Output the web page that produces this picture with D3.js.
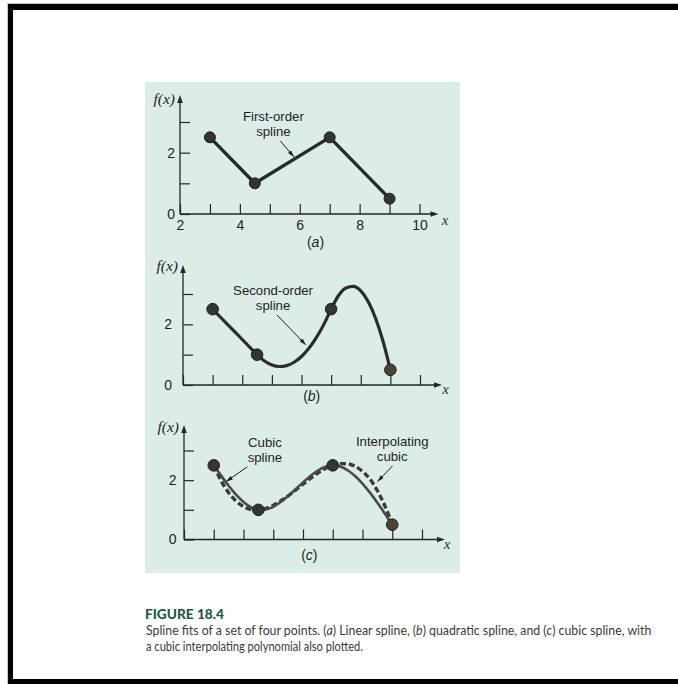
<!DOCTYPE html>
<html><head><meta charset="utf-8">
<script src="https://cdn.jsdelivr.net/npm/d3@7"></script>
<style>html,body{margin:0;padding:0;background:#fff;} svg{display:block;}</style>
</head><body>
<svg id="chart" width="678" height="684"></svg>
<script>
// ---------------- data ----------------
const pointX = [3, 4.5, 7, 9];
const pointY = [2.5, 1.0, 2.5, 0.5];

const xTickValues = [2, 3, 4, 5, 6, 7, 8, 9, 10];
const xTickLabels = ["2", "", "4", "", "6", "", "8", "", "10"];
const yTickValues = [0, 1, 2, 3];
const yTickLabels = ["0", "", "2", ""];

// curve samples
const sampleX = [3, 3.25, 3.5, 3.75, 4, 4.25, 4.5, 4.75, 5, 5.25, 5.5, 5.75, 6, 6.25, 6.5, 6.75, 7, 7.25, 7.5, 7.75, 8, 8.25, 8.5, 8.75, 9];
const quadSplineY = [2.5, 2.25, 2.0, 1.75, 1.5, 1.25, 1.0, 0.79, 0.66, 0.61, 0.64, 0.75, 0.94, 1.21, 1.56, 1.99, 2.5, 2.95, 3.2, 3.25, 3.1, 2.75, 2.2, 1.45, 0.5];
const cubicSplineY = [2.5, 2.148, 1.813, 1.514, 1.267, 1.090, 1.0, 1.009, 1.103, 1.262, 1.465, 1.693, 1.926, 2.143, 2.324, 2.450, 2.5, 2.460, 2.335, 2.139, 1.883, 1.579, 1.240, 0.876, 0.5];
const interpCubicY = [2.5, 1.977, 1.580, 1.295, 1.111, 1.017, 1.0, 1.049, 1.152, 1.297, 1.472, 1.666, 1.867, 2.062, 2.241, 2.391, 2.5, 2.557, 2.55, 2.467, 2.296, 2.036, 1.644, 1.140, 0.5];

const panelLetters = ["a", "b", "c"];
const annotationTexts = [
  [["First-order", "spline"]],
  [["Second-order", "spline"]],
  [["Cubic", "spline"], ["Interpolating", "cubic"]]
];
// annotation anchor: [textX, textY, arrowFromX, arrowFromY, arrowToX, arrowToY] in data units
const annotationAnchors = [
  [[5.12, 3.04, 5.35, 2.38, 5.81, 1.86]],
  [[5.04, 2.97, 5.17, 2.31, 6.15, 1.32]],
  [[4.72, 3.11, 4.13, 2.45, 3.41, 1.95], [9.0, 3.15, 9.01, 2.48, 8.50, 1.95]]
];
const captionTitle = "FIGURE 18.4";

// ---------------- layout ----------------
const layout = [
  {x0: 180, x1: 419.5, y0: 214, y3: 122, yTop: 95, xEnd: 438.5, yPad: 5, xPad: 6, fxBase: 104, xlabBase: 225, xlabX: 445, letterX: 315.5, letterBase: 246.5, r: 5.5, labelsX: true},
  {x0: 183, x1: 420, y0: 385, y3: 294, yTop: 265, xEnd: 442, yPad: 11, xPad: 7, fxBase: 270.5, xlabBase: 393.5, xlabX: 445.5, letterX: 311.7, letterBase: 401, r: 5.8, labelsX: false},
  {x0: 184, x1: 422, y0: 539.5, y3: 450.5, yTop: 425, xEnd: 445, yPad: 7.5, xPad: 7, fxBase: 431.5, xlabBase: 548.5, xlabX: 447, letterX: 309.3, letterBase: 560, r: 5.8, labelsX: false}
];

const svg = d3.select("#chart");
const sans = "'Liberation Sans', Arial, Helvetica, sans-serif";
const serif = "'Liberation Serif', 'Times New Roman', serif";

// frame
svg.append("rect").attr("x", 0).attr("y", 0).attr("width", 678).attr("height", 684).attr("fill", "#fff");
svg.append("rect").attr("x", 7).attr("y", 3).attr("width", 671).attr("height", 1).attr("fill", "#c8c8c8");
svg.append("rect").attr("x", 7).attr("y", 3).attr("width", 1).attr("height", 681).attr("fill", "#c8c8c8");
svg.append("rect").attr("x", 8).attr("y", 4).attr("width", 670).attr("height", 6).attr("fill", "#000");
svg.append("rect").attr("x", 8).attr("y", 4).attr("width", 5).attr("height", 680).attr("fill", "#000");
svg.append("rect").attr("x", 8).attr("y", 679).attr("width", 670).attr("height", 5).attr("fill", "#000");

// page panel
svg.append("rect").attr("x", 145).attr("y", 82).attr("width", 315).attr("height", 491).attr("fill", "#dcede7");

const defs = svg.append("defs");
defs.append("marker").attr("id", "ah").attr("viewBox", "0 0 10 6")
  .attr("refX", 10).attr("refY", 3).attr("markerWidth", 7).attr("markerHeight", 4.2)
  .attr("markerUnits", "userSpaceOnUse").attr("orient", "auto")
  .append("path").attr("d", "M0,0 L10,3 L0,6 Z").attr("fill", "#1e1e1e");

const ink = "#262626";

layout.forEach((L, pi) => {
  const x = d3.scaleLinear().domain([2, 10]).range([L.x0, L.x1]);
  const y = d3.scaleLinear().domain([0, 3]).range([L.y0, L.y3]);
  const g = svg.append("g");

  // x ticks
  const xa = g.append("g").attr("transform", `translate(0,${L.y0})`)
    .call(d3.axisBottom(x).tickValues(xTickValues).tickSize(-10).tickPadding(L.xPad)
      .tickFormat((d, i) => L.labelsX ? xTickLabels[i] : ""));
  xa.select(".domain").remove();
  xa.selectAll("line").attr("stroke", ink).attr("stroke-width", 1.2);
  xa.selectAll("text").attr("font-family", sans).attr("font-size", 14).attr("fill", "#1e1e1e");

  // y ticks
  const ya = g.append("g").attr("transform", `translate(${L.x0},0)`)
    .call(d3.axisLeft(y).tickValues(yTickValues).tickSize(-10).tickPadding(L.yPad)
      .tickFormat((d, i) => yTickLabels[i]));
  ya.select(".domain").remove();
  ya.selectAll("line").attr("stroke", ink).attr("stroke-width", 1.2);
  ya.selectAll("text").attr("font-family", sans).attr("font-size", 14).attr("fill", "#1e1e1e");

  // axes lines + arrowheads
  g.append("line").attr("x1", L.x0).attr("y1", L.y0).attr("x2", L.xEnd - 4).attr("y2", L.y0)
    .attr("stroke", ink).attr("stroke-width", 1.3);
  g.append("line").attr("x1", L.x0).attr("y1", L.y0).attr("x2", L.x0).attr("y2", L.yTop + 4)
    .attr("stroke", ink).attr("stroke-width", 1.3);
  g.append("path").attr("d", `M${L.xEnd},${L.y0} L${L.xEnd - 8},${L.y0 - 2.8} L${L.xEnd - 8},${L.y0 + 2.8} Z`).attr("fill", ink);
  g.append("path").attr("d", `M${L.x0},${L.yTop} L${L.x0 - 2.8},${L.yTop + 8} L${L.x0 + 2.8},${L.yTop + 8} Z`).attr("fill", ink);

  // axis titles
  g.append("text").attr("x", L.x0 - 5).attr("y", L.fxBase).attr("text-anchor", "end")
    .attr("font-family", serif).attr("font-style", "italic").attr("font-size", 15.5).attr("fill", "#1e1e1e").text("f(x)");
  g.append("text").attr("x", L.xlabX).attr("y", L.xlabBase).attr("text-anchor", "middle")
    .attr("font-family", serif).attr("font-style", "italic").attr("font-size", 15).attr("fill", "#333").text("x");

  // panel letter
  const lt = g.append("text").attr("x", L.letterX).attr("y", L.letterBase).attr("text-anchor", "middle")
    .attr("font-family", sans).attr("font-size", 14).attr("fill", "#1e1e1e");
  lt.append("tspan").text("(");
  lt.append("tspan").attr("font-style", "italic").text(panelLetters[pi]);
  lt.append("tspan").text(")");

  const pts = pointX.map((v, i) => [v, pointY[i]]);
  const line = d3.line().x(d => x(d[0])).y(d => y(d[1]));

  if (pi === 0) {
    g.append("path").datum(pts).attr("d", line.curve(d3.curveLinear))
      .attr("fill", "none").attr("stroke", "#2a2a2a").attr("stroke-width", 3.4).attr("stroke-linejoin", "round");
  } else if (pi === 1) {
    const q = sampleX.map((v, i) => [v, quadSplineY[i]]);
    g.append("path").datum(q).attr("d", line.curve(d3.curveMonotoneX))
      .attr("fill", "none").attr("stroke", "#2c2c2c").attr("stroke-width", 3.2).attr("stroke-linejoin", "round");
  } else {
    const ic = sampleX.map((v, i) => [v, interpCubicY[i]]);
    const cs = sampleX.map((v, i) => [v, cubicSplineY[i]]);
    g.append("path").datum(ic).attr("d", line.curve(d3.curveMonotoneX))
      .attr("fill", "none").attr("stroke", "#3a3a3a").attr("stroke-width", 3.4).attr("stroke-dasharray", "6,3");
    g.append("path").datum(cs).attr("d", line.curve(d3.curveMonotoneX))
      .attr("fill", "none").attr("stroke", "#4a4a42").attr("stroke-width", 2.6);
  }

  // points
  g.selectAll("circle.pt").data(pts).join("circle").attr("class", "pt")
    .attr("cx", d => x(d[0])).attr("cy", d => y(d[1])).attr("r", L.r)
    .attr("fill", (d, i) => (pi > 0 && i === 3) ? "#4e4236" : "#343434")
    .attr("stroke", "#1e1e1e").attr("stroke-width", 1);

  // annotations
  annotationTexts[pi].forEach((lines, ai) => {
    const a = annotationAnchors[pi][ai];
    lines.forEach((s, li) => {
      g.append("text").attr("x", x(a[0])).attr("y", y(a[1]) + li * 15).attr("text-anchor", "middle")
        .attr("font-family", sans).attr("font-size", 13.2).attr("fill", "#1e1e1e").text(s);
    });
    g.append("line").attr("x1", x(a[2])).attr("y1", y(a[3])).attr("x2", x(a[4])).attr("y2", y(a[5]))
      .attr("stroke", "#1e1e1e").attr("stroke-width", 1).attr("marker-end", "url(#ah)");
  });
});

// ---------------- caption ----------------
function fitText(sel, x0, base, width) {
  const w = sel.node().getComputedTextLength();
  sel.attr("transform", `translate(${x0},${base}) scale(${width / w},1)`);
}
const t0 = svg.append("text").attr("x", 0).attr("y", 0)
  .attr("font-family", "Lato, 'Open Sans', sans-serif").attr("font-weight", 900).attr("font-size", 14)
  .attr("fill", "#1d5a48").text(captionTitle);
fitText(t0, 145, 619, 79);

const capFont = "Lato, 'Noto Sans', sans-serif";
const t1 = svg.append("text").attr("x", 0).attr("y", 0)
  .attr("font-family", capFont).attr("font-size", 13).attr("fill", "#3a3a3a");
t1.append("tspan").text("Spline fits of a set of four points. (");
t1.append("tspan").attr("font-style", "italic").text("a");
t1.append("tspan").text(") Linear spline, (");
t1.append("tspan").attr("font-style", "italic").text("b");
t1.append("tspan").text(") quadratic spline, and (");
t1.append("tspan").attr("font-style", "italic").text("c");
t1.append("tspan").text(") cubic spline, with");
fitText(t1, 146, 634.5, 505.5);

const t2 = svg.append("text").attr("x", 0).attr("y", 0)
  .attr("font-family", capFont).attr("font-size", 13).attr("fill", "#3a3a3a")
  .text("a cubic interpolating polynomial also plotted.");
fitText(t2, 146, 650.5, 217);
</script>
</body></html>
